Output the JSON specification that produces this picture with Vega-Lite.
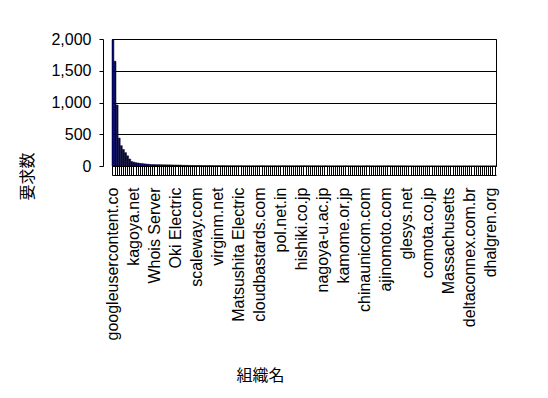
{
  "$schema": "https://vega.github.io/schema/vega-lite/v6.json",
  "autosize": {"type": "none"},
  "padding": {"left": 112, "top": 39, "right": 52, "bottom": 232},
  "width": 384,
  "height": 127,
  "background": "white",
  "config": {
    "view": {"stroke": "#000000", "strokeWidth": 1},
    "font": "Liberation Sans"
  },
  "data": {
    "values": [
      {"i":1,"n":1990},{"i":2,"n":1650},{"i":3,"n":960},{"i":4,"n":440},{"i":5,"n":320},
      {"i":6,"n":260},{"i":7,"n":210},{"i":8,"n":160},{"i":9,"n":110},{"i":10,"n":70},
      {"i":11,"n":60},{"i":12,"n":52},{"i":13,"n":47},{"i":14,"n":42},{"i":15,"n":38},
      {"i":16,"n":34},{"i":17,"n":31},{"i":18,"n":28},{"i":19,"n":24},{"i":20,"n":23},
      {"i":21,"n":22},{"i":22,"n":21},{"i":23,"n":21},{"i":24,"n":20},{"i":25,"n":19},
      {"i":26,"n":19},{"i":27,"n":18},{"i":28,"n":18},{"i":29,"n":17},{"i":30,"n":16},
      {"i":31,"n":16},{"i":32,"n":15},{"i":33,"n":15},{"i":34,"n":12},{"i":35,"n":11},
      {"i":36,"n":10},{"i":37,"n":10},{"i":38,"n":9},{"i":39,"n":9},{"i":40,"n":8},
      {"i":41,"n":7},{"i":42,"n":7},{"i":43,"n":7},{"i":44,"n":6},{"i":45,"n":6},
      {"i":46,"n":6},{"i":47,"n":6},{"i":48,"n":6},{"i":49,"n":5},{"i":50,"n":5},
      {"i":51,"n":5},{"i":52,"n":5},{"i":53,"n":5},{"i":54,"n":5},{"i":55,"n":4},
      {"i":56,"n":4},{"i":57,"n":4},{"i":58,"n":4},{"i":59,"n":4},{"i":60,"n":4},
      {"i":61,"n":3},{"i":62,"n":3},{"i":63,"n":3},{"i":64,"n":3},{"i":65,"n":3},
      {"i":66,"n":3},{"i":67,"n":3},{"i":68,"n":3},{"i":69,"n":3},{"i":70,"n":3},
      {"i":71,"n":3},{"i":72,"n":3},{"i":73,"n":3},{"i":74,"n":3},{"i":75,"n":3},
      {"i":76,"n":3},{"i":77,"n":3},{"i":78,"n":3},{"i":79,"n":3},{"i":80,"n":3},
      {"i":81,"n":3},{"i":82,"n":3},{"i":83,"n":3},{"i":84,"n":3},{"i":85,"n":3},
      {"i":86,"n":3},{"i":87,"n":3},{"i":88,"n":3},{"i":89,"n":3},{"i":90,"n":3},
      {"i":91,"n":3},{"i":92,"n":3},{"i":93,"n":3},{"i":94,"n":3},{"i":95,"n":3},
      {"i":96,"n":3},{"i":97,"n":3},{"i":98,"n":3},{"i":99,"n":3},{"i":100,"n":3},
      {"i":101,"n":2},{"i":102,"n":2},{"i":103,"n":2},{"i":104,"n":2},{"i":105,"n":2},
      {"i":106,"n":2},{"i":107,"n":2},{"i":108,"n":2},{"i":109,"n":2},{"i":110,"n":2},
      {"i":111,"n":2},{"i":112,"n":2},{"i":113,"n":2},{"i":114,"n":2},{"i":115,"n":2},
      {"i":116,"n":2},{"i":117,"n":2},{"i":118,"n":2},{"i":119,"n":2},{"i":120,"n":2},
      {"i":121,"n":2},{"i":122,"n":2},{"i":123,"n":2},{"i":124,"n":2},{"i":125,"n":2},
      {"i":126,"n":2},{"i":127,"n":2},{"i":128,"n":2},{"i":129,"n":2},{"i":130,"n":2},
      {"i":131,"n":2},{"i":132,"n":2},{"i":133,"n":2},{"i":134,"n":2},{"i":135,"n":2},
      {"i":136,"n":2},{"i":137,"n":2},{"i":138,"n":2},{"i":139,"n":2},{"i":140,"n":2},
      {"i":141,"n":1},{"i":142,"n":1},{"i":143,"n":1},{"i":144,"n":1},{"i":145,"n":1},
      {"i":146,"n":1},{"i":147,"n":1},{"i":148,"n":1},{"i":149,"n":1},{"i":150,"n":1},
      {"i":151,"n":1},{"i":152,"n":1},{"i":153,"n":1},{"i":154,"n":1},{"i":155,"n":1},
      {"i":156,"n":1},{"i":157,"n":1},{"i":158,"n":1},{"i":159,"n":1},{"i":160,"n":1},
      {"i":161,"n":1},{"i":162,"n":1},{"i":163,"n":1},{"i":164,"n":1},{"i":165,"n":1},
      {"i":166,"n":1},{"i":167,"n":1},{"i":168,"n":1},{"i":169,"n":1},{"i":170,"n":1},
      {"i":171,"n":1},{"i":172,"n":1},{"i":173,"n":1},{"i":174,"n":1},{"i":175,"n":1},
      {"i":176,"n":1},{"i":177,"n":1},{"i":178,"n":1},{"i":179,"n":1},{"i":180,"n":1},
      {"i":181,"n":1},{"i":182,"n":1},{"i":183,"n":1}
    ]
  },
  "layer": [
    {
      "mark": {"type": "bar", "fill": "#000080", "stroke": "#000000", "strokeWidth": 0.5},
      "encoding": {
        "x": {
          "field": "i", "type": "ordinal", "sort": null,
          "scale": {"paddingInner": 0.1, "paddingOuter": 0},
          "axis": {
            "title": "組織名",
            "titleFont": "Noto Sans CJK JP", "titleFontSize": 16, "titleFontWeight": "normal", "titleColor": "#000",
            "titleX": 148, "titleY": 209, "titleBaseline": "middle", "titleAlign": "center",
            "labelAngle": -90, "labelFontSize": 16, "labelColor": "#000", "labelPadding": 12,
            "labelOverlap": false, "labelBound": false, "labelFlush": false,
            "labelExpr": "(datum.value - 1) % 10 == 0 ? ['googleusercontent.co','kagoya.net','Whois Server','Oki Electric','scaleway.com','virginm.net','Matsushita Electric','cloudbastards.com','pol.net.in','hishiki.co.jp','nagoya-u.ac.jp','kamome.or.jp','chinaunicom.com','ajinomoto.com','glesys.net','comota.co.jp','Massachusetts','deltaconnex.com.br','dhalgren.org'][(datum.value - 1) / 10] : ''",
            "ticks": true, "tickSize": 9, "tickColor": "#000", "tickWidth": 1,
            "domain": true, "domainColor": "#000", "grid": false
          }
        },
        "y": {
          "field": "n", "type": "quantitative",
          "scale": {"domain": [0, 2000], "nice": false},
          "axis": {
            "orient": "left",
            "title": "要求数",
            "titleFont": "Noto Sans CJK JP", "titleFontSize": 16, "titleFontWeight": "normal", "titleColor": "#000",
            "titleX": -76, "titleY": 137, "titleAngle": -90, "titleBaseline": "middle", "titleAlign": "center",
            "values": [0, 500, 1000, 1500, 2000], "format": ",.0f",
            "offset": 9, "labelFontSize": 16, "labelColor": "#000", "labelPadding": 8,
            "tickSize": 4, "tickColor": "#000", "domainColor": "#000",
            "grid": true, "gridColor": "#000", "gridWidth": 1, "gridOpacity": 1
          }
        }
      }
    },
    {
      "mark": {"type": "bar", "opacity": 0},
      "encoding": {
        "x": {
          "field": "i", "type": "ordinal", "sort": null,
          "axis": {"orient": "bottom", "offset": 9, "labels": false, "ticks": false, "title": null, "domain": true, "domainColor": "#000", "grid": false}
        },
        "y": {
          "field": "n", "type": "quantitative",
          "axis": {"orient": "right", "labels": false, "ticks": false, "domain": false, "grid": false, "title": null}
        }
      }
    }
  ],
  "resolve": {"axis": {"x": "independent", "y": "independent"}}
}
